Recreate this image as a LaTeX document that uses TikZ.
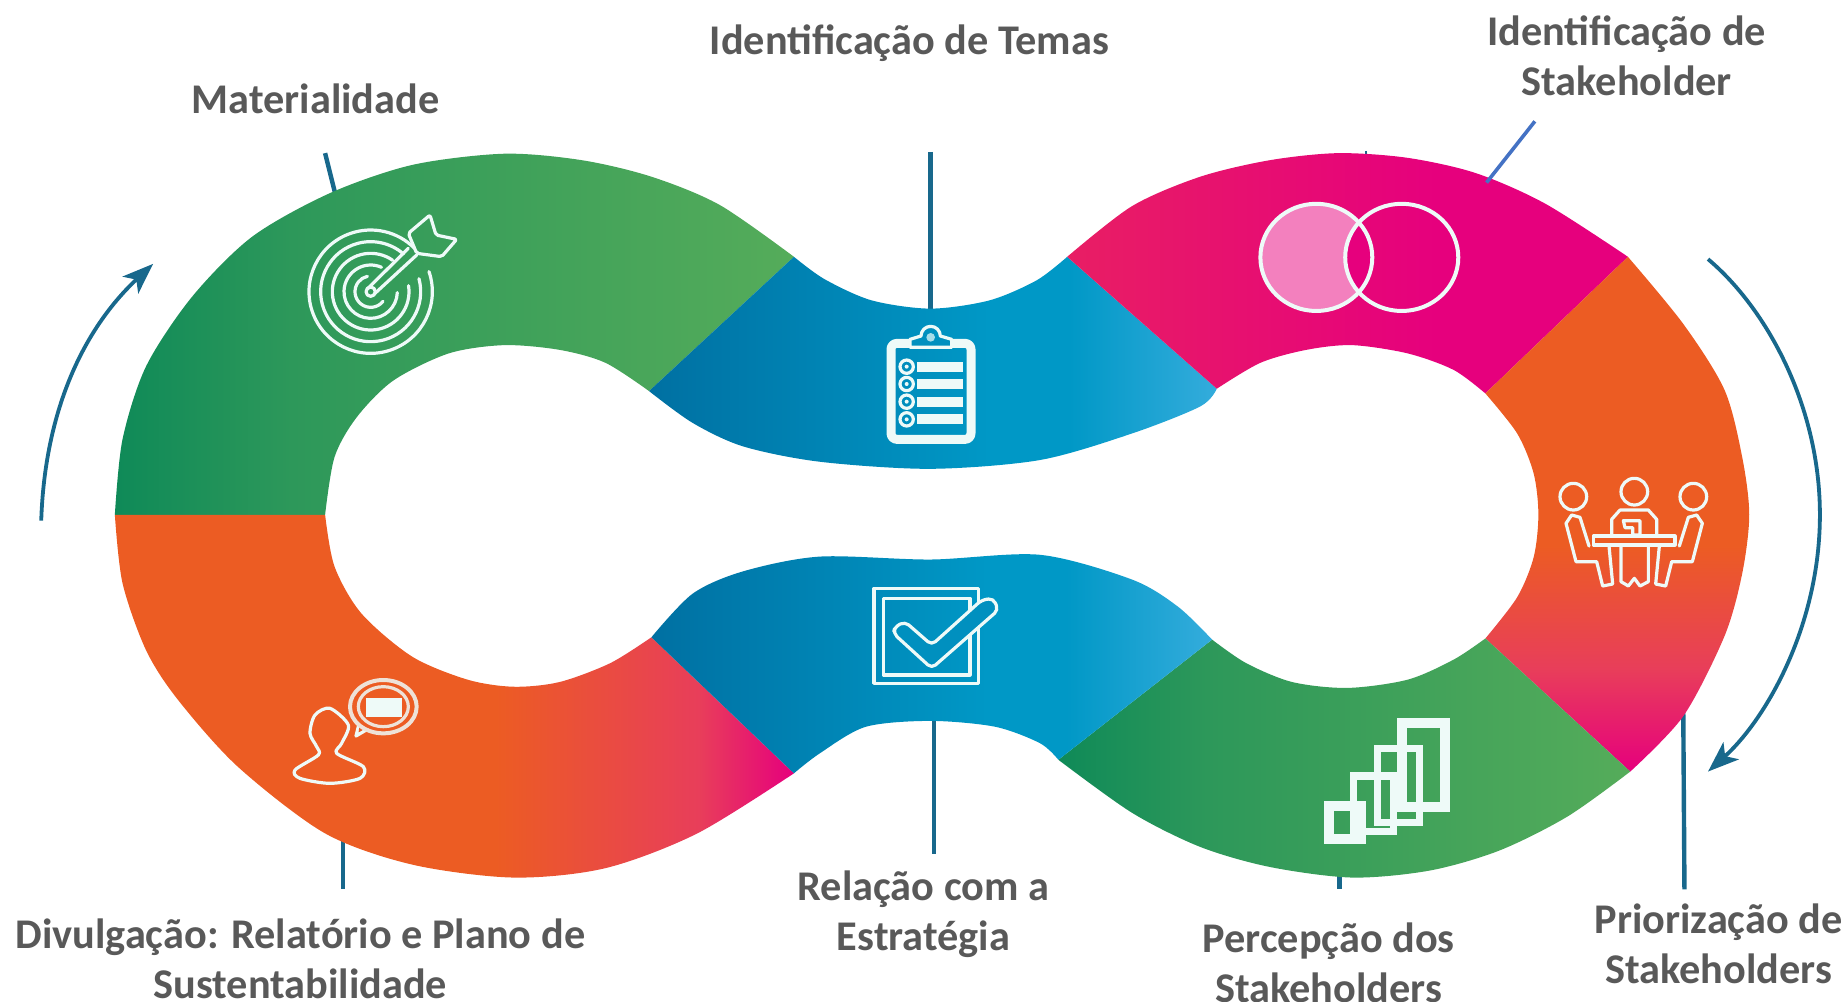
\documentclass[tikz,border=0pt]{standalone}
\usepackage{fontspec}
\setmainfont{Carlito}
\usetikzlibrary{arrows.meta}
\definecolor{lbl}{RGB}{89,89,89}
\definecolor{teal1}{RGB}{24,104,140}
\definecolor{linkblue}{RGB}{68,114,196}
\definecolor{gd}{RGB}{15,138,88}
\definecolor{gm}{RGB}{45,152,90}
\definecolor{gl}{RGB}{85,172,90}
\definecolor{bd}{RGB}{0,112,162}
\definecolor{bm}{RGB}{0,152,198}
\definecolor{bl}{RGB}{52,172,220}
\definecolor{mag}{RGB}{230,0,125}
\definecolor{magl}{RGB}{232,30,100}
\definecolor{org}{RGB}{236,92,35}
\definecolor{orp}{RGB}{232,62,90}
\definecolor{ico}{RGB}{238,250,248}
\pgfdeclarehorizontalshading{gshade}{100bp}{color(0bp)=(gd);color(25bp)=(gd);color(38bp)=(gm);color(75bp)=(gl);color(100bp)=(gl)}
\pgfdeclarehorizontalshading{bshade}{100bp}{color(0bp)=(bd);color(25bp)=(bd);color(55bp)=(bm);color(62bp)=(bm);color(75bp)=(bl);color(100bp)=(bl)}
\pgfdeclarehorizontalshading{mshade}{100bp}{color(0bp)=(magl);color(25bp)=(magl);color(58bp)=(mag);color(100bp)=(mag)}
\pgfdeclarehorizontalshading{oshade}{100bp}{color(0bp)=(org);color(25bp)=(org);color(53bp)=(org);color(68bp)=(orp);color(75bp)=(mag);color(100bp)=(mag)}
\pgfdeclareverticalshading{vshade}{100bp}{color(0bp)=(mag);color(25bp)=(mag);color(35bp)=(orp);color(47bp)=(org);color(100bp)=(org)}
\tikzset{
 lab/.style={text=lbl,font=\fontsize{42.3}{50}\selectfont\bfseries,align=center,inner sep=0pt},
 lead/.style={draw=teal1,line width=4.4pt},
 flow/.style={draw=teal1,line width=3.8pt,-{Stealth[length=31pt,width=23pt,inset=8pt]}},
 icon/.style={draw=ico,line width=3.2pt,line join=round,line cap=round},
 zoomat/.style 2 args={shift={(#1/1.17793,#2/1.17793)},x=.33333pt,y=-.33333pt},
}
\begin{document}
\begin{tikzpicture}[x=1.17793pt,y=-1.17793pt]
\useasboundingbox (0,0) rectangle (1568,849.8);
% connector ends
\coordinate (mt) at (276,130); \coordinate (mb) at (286,170);
\coordinate (tt) at (790,129); \coordinate (tb) at (790,265);
\coordinate (st) at (1303,103); \coordinate (sb) at (1262,155);
\coordinate (kt) at (1160,128); \coordinate (kb) at (1160,134);
\coordinate (dt) at (291,700); \coordinate (db) at (291,755);
\coordinate (rt) at (793,610); \coordinate (rb) at (793,725);
\coordinate (pt) at (1137,735); \coordinate (pb) at (1137,755);
\coordinate (zt) at (1429,605); \coordinate (zb) at (1430,755);
\coordinate (la) at (35,442); \coordinate (lb) at (130,224);
\coordinate (ra) at (1450,220); \coordinate (rm) at (1545,437); \coordinate (rc) at (1450,655);
\draw[lead] (mt)--(mb);
\draw[lead] (tt)--(tb);
\draw[lead,line width=2pt] (kt)--(kb);
\draw[lead] (dt)--(db);
\draw[lead] (rt)--(rb);
\draw[lead] (pt)--(pb);
\draw[lead] (zt)--(zb);
% ring segments
\shade[shading=gshade]
 plot[smooth] coordinates {(97.5,437)(104,373)(124,311)(163,252)(214,201)(280,164)(350,140)(428,130.5)(494,136)(553,150)(611,174)(674,218)}
 -- plot[smooth] coordinates {(551,332)(514,308)(475,297)(428,293)(381,300)(334,323)(303,354)(284,388)(276,437)} -- cycle;
\shade[shading=bshade]
 plot[smooth] coordinates {(674,218)(700,237)(740,255)(790,262)(840,255)(880,238)(906,218)}
 -- plot[smooth] coordinates {(1033,330)(1019,345)(961,368)(883,390.5)(790,398)(696,392)(631,379)(588,359)(551,332)} -- cycle;
\shade[shading=mshade]
 plot[smooth] coordinates {(906,218)(961,175)(1019,150)(1078,136)(1136,130)(1195,134)(1253,147)(1312,173)(1382,218)}
 -- plot[smooth] coordinates {(1261,334)(1234,314)(1195,300)(1148,293)(1109,297)(1070,308)(1033,330)} -- cycle;
\shade[shading=vshade]
 plot[smooth] coordinates {(1382,218)(1429,275)(1464,331)(1479,388)(1485,437)(1479,487)(1464,540)(1429,608)(1384,655)}
 -- plot[smooth] coordinates {(1261,542)(1288,507)(1302,473)(1306,437)(1302,402)(1288,368)(1261,334)} -- cycle;
\shade[shading=gshade]
 plot[smooth] coordinates {(1384,655)(1331,693)(1273,722)(1214,739)(1148,745)(1078,736)(1019,719)(961,690)(898.5,645)}
 -- plot[smooth] coordinates {(1029,543)(1058,563)(1097,579)(1144,584)(1195,577)(1234,560)(1261,542)} -- cycle;
\shade[shading=oshade]
 plot[smooth] coordinates {(674,656.5)(592,707.5)(514,737)(436,745)(350,734)(276,707.5)(202,651)(151,594)(124,552)(104,495)(97.5,437)}
 -- plot[smooth] coordinates {(276,437)(284,481)(307,521)(350,557.5)(397,577)(436,583)(475,579)(518,563)(553,541)} -- cycle;
\shade[shading=bshade]
 plot[smooth] coordinates {(898.5,645)(883,631)(845,617)(790,612)(735,617)(696,639.5)(674,656.5)}
 -- plot[smooth] coordinates {(553,541)(588,504)(631,485)(696,472.5)(790,475)(883,471)(961,492)(1000,515)(1029,543)} -- cycle;
% arrows
\draw[flow] (la) .. controls (38,350) and (70,280) .. (lb);
\draw[draw=teal1,line width=3.8pt] (ra) .. controls (1500,262) and (1545,345) .. (rm);
\draw[flow] (rm) .. controls (1545,530) and (1500,610) .. (rc);
\draw[draw=linkblue,line width=3.6pt] (st)--(sb);
% labels
\node[lab] (n1) at (268,84) {Materialidade};
\node[lab] (n2) at (772,37) {Identificação de Temas};
\node[lab] (n3) at (1381,47) {Identificação de\\Stakeholder};
\node[lab] (n4) at (255,814) {Divulgação: Relatório e Plano de\\Sustentabilidade};
\node[lab] (n5) at (784,776) {Relação com a\\Estratégia};
\node[lab] (n6) at (1128,817) {Percepção dos\\Stakeholders};
\node[lab] (n7) at (1459,801) {Priorização de\\Stakeholders};
% target icon
\begin{scope}[zoomat={280}{190}]
 \foreach \r/\g in {185/13,150/17,115/23,80/34,47/70}{
  \pgfmathsetmacro{\sa}{-32+\g}\pgfmathsetmacro{\ea}{328-\g}
  \draw[icon] (272,305) ++(\sa:\r) arc[start angle=\sa,end angle=\ea,radius=\r];}
 \draw[icon] (262,297)--(385,175);
 \draw[icon] (285,310)--(410,195);
 \draw[icon] (272,305) circle (14);
 \draw[icon,rounded corners=2pt] (450,75)--(468,135)--(530,148)--(485,200)--(410,190)--(385,130)--cycle;
\end{scope}
% clipboard icon
\begin{scope}[zoomat={860}{310}]
 \draw[icon,line width=9pt,rounded corners=6pt] (93,100) rectangle (333,388);
 \fill[bm!80!bd] (152,84) rectangle (272,112);
 \draw[icon] (150,112)--(150,88)--(183,78) arc[start angle=180,end angle=360,radius=29] --(275,88)--(275,112)--cycle;
 \fill[ico!70!bm] (212,82) circle (13);
 \foreach \yy in {170,222,275,328}{
  \fill[ico] (172,\yy-15) rectangle (310,\yy+15);
  \draw[icon] (140,\yy) circle (20);
  \fill[ico] (140,\yy) circle (6);}
\end{scope}
% venn icon
\fill[white!50!mag] (1117.5,218.5) ellipse (47.5 and 45.5);
\begin{scope}
 \clip (1117.5,218.5) ellipse (47.5 and 45.5);
 \fill[mag] (1190,218.5) ellipse (48 and 45.5);
\end{scope}
\draw[icon,line width=4pt] (1117.5,218.5) ellipse (47.5 and 45.5);
\draw[icon,line width=4pt] (1190,218.5) ellipse (48 and 45.5);
% meeting icon
\begin{scope}[zoomat={1540}{460}]
 \foreach \xx/\yy in {100/110,283/95,460/110}{\draw[icon] (\xx,\yy) circle (40);}
 \draw[icon] (215,228)--(215,178)--(240,150)--(325,150)--(350,178)--(350,228);
 \draw[icon] (160,228) rectangle (405,255);
 \draw[icon] (243,258)--(243,365)--(265,378)--(283,355)--(300,378)--(325,365)--(325,258);
 \draw[icon] (207,258)--(218,372)--(188,378)--(170,305)--(108,305)--(78,190)--(95,165)--(120,172)--(147,258);
 \draw[icon] (358,258)--(347,372)--(377,378)--(395,305)--(457,305)--(487,190)--(470,165)--(445,172)--(418,258);
 \draw[icon] (250,182)--(300,182)--(300,225)--(278,225)--(278,203)--(255,203)--cycle;
\end{scope}
% bars icon
\begin{scope}[zoomat={1300}{700}]
 \draw[ico,line width=10pt] (305,68) rectangle (435,320);
 \draw[ico,line width=7.5pt] (232,146) rectangle (358,368);
 \draw[ico,line width=7.5pt] (160,228) rectangle (280,395);
 \draw[ico,line width=10pt] (88,318) rectangle (184,418);
\end{scope}
% person icon
\begin{scope}[zoomat={280}{670}]
 \draw[icon] plot[smooth cycle] coordinates {(150,115)(205,165)(185,220)(170,250)(250,290)(240,325)(150,340)(60,325)(45,300)(115,255)(110,230)(90,190)(105,135)};
 \fill[org] (310,110) ellipse (100 and 80);
 \draw[icon] (235,170)--(228,198)--(262,178);
 \fill[org] (238,170)--(236,185)--(258,172)--cycle;
 \draw[icon,draw=ico!85!org,line width=4pt] (310,110) ellipse (100 and 80);
 \draw[icon,draw=ico!85!org] (310,110) ellipse (75 and 60);
 \fill[ico] (258,85) rectangle (365,140);
\end{scope}
% check icon
\begin{scope}[zoomat={860}{570}]
 \draw[icon,line cap=butt] (42,55) rectangle (355,340);
 \draw[icon,line cap=butt] (70,85) rectangle (330,315);
 \filldraw[icon,fill=bm!80!bd,rounded corners=5pt] (105,170)--(135,155)--(215,225)--(365,90)--(400,85)--(415,120)--(215,295)--(100,190)--cycle;
\end{scope}
\end{tikzpicture}
\end{document}
